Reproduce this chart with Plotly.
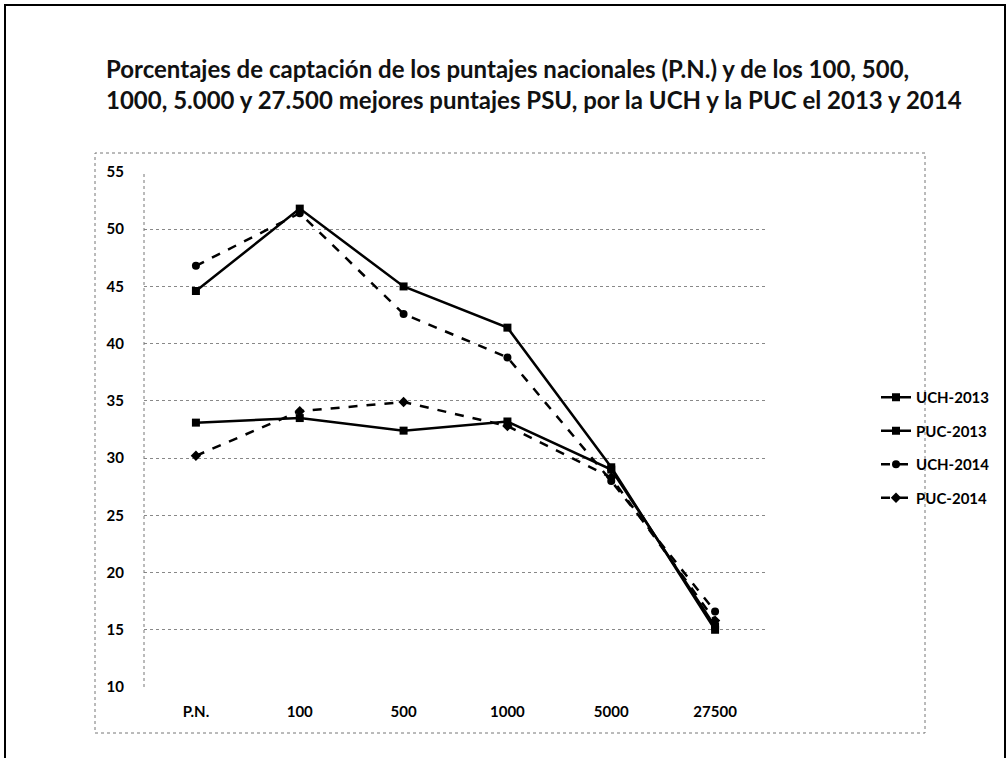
import plotly.graph_objects as go

categories = ["P.N.", "100", "500", "1000", "5000", "27500"]

uch_2013 = [44.6, 51.8, 45.0, 41.4, 29.2, 15.0]
puc_2013 = [33.1, 33.5, 32.4, 33.2, 29.0, 15.3]
uch_2014 = [46.8, 51.4, 42.6, 38.8, 28.0, 16.6]
puc_2014 = [30.2, 34.1, 34.9, 32.8, 28.3, 15.8]

series = [
    ("UCH-2013", uch_2013, "solid", "square"),
    ("PUC-2013", puc_2013, "solid", "square"),
    ("UCH-2014", uch_2014, "dash", "circle"),
    ("PUC-2014", puc_2014, "dash", "diamond"),
]

W, H = 1008, 758
FONT = "Lato, 'Open Sans', sans-serif"

fig = go.Figure()
for name, vals, dash, sym in series:
    fig.add_trace(go.Scatter(
        x=categories, y=vals, name=name, mode="lines+markers",
        legendgroup=name,
        line=dict(color="black", width=2.5, dash=dash),
        marker=dict(symbol=sym, size=8, color="black"),
    ))

def px_x(v):
    return v / W

def px_y(v):
    return 1 - v / H

# plot area in window pixels
left, right, top, bottom = 144, 767, 172, 687

fig.update_layout(
    width=W, height=H,
    margin=dict(l=0, r=0, t=0, b=0, autoexpand=False),
    paper_bgcolor="white", plot_bgcolor="white",
    font=dict(family=FONT, color="black", size=14),
    showlegend=True,
    legend=dict(
        x=px_x(876), y=px_y(381), xanchor="left", yanchor="top",
        font=dict(size=15, family=FONT, weight="bold"), tracegroupgap=11,
        bgcolor="rgba(0,0,0,0)",
    ),
    annotations=[dict(
        x=px_x(104), y=px_y(52), xref="paper", yref="paper",
        xanchor="left", yanchor="top", align="left", showarrow=False,
        text="<b>Porcentajes de captación de los puntajes nacionales (P.N.) y de los 100, 500,<br>"
             "1000, 5.000 y 27.500 mejores puntajes PSU, por la UCH y la PUC el 2013 y 2014</b>",
        font=dict(size=24, family=FONT, color="#111"),
    )],
    shapes=[
        # outer frame
        dict(type="rect", xref="paper", yref="paper",
             x0=px_x(5), x1=px_x(1005), y0=px_y(762), y1=px_y(5),
             line=dict(color="black", width=2)),
        # chart box
        dict(type="rect", xref="paper", yref="paper",
             x0=px_x(95), x1=px_x(925), y0=px_y(733), y1=px_y(153),
             line=dict(color="#777", width=1, dash="dot")),
        # y axis line
        dict(type="line", xref="paper", yref="paper",
             x0=px_x(left), x1=px_x(left), y0=px_y(bottom), y1=px_y(top),
             line=dict(color="#777", width=1, dash="dot")),
    ],
)

fig.update_xaxes(
    type="category", range=[-0.5, 5.5],
    domain=[px_x(left), px_x(right)],
    showgrid=False, zeroline=False, showline=False,
    ticks="", ticklabelstandoff=14,
    tickfont=dict(size=15, family=FONT, color="black", weight="bold"),
)
fig.update_yaxes(
    range=[10, 55], dtick=5,
    domain=[px_y(bottom), px_y(top)],
    showgrid=True, gridcolor="#888", gridwidth=1, griddash="dot",
    zeroline=False, showline=False, ticks="", ticklabelstandoff=19,
    tickfont=dict(size=15, family=FONT, color="black", weight="bold"),
)

# drop the default 8px body margin so the figure fills the window
fig.write_html("out.html", config={"displayModeBar": False},
               post_script="document.body.style.margin='0';")
